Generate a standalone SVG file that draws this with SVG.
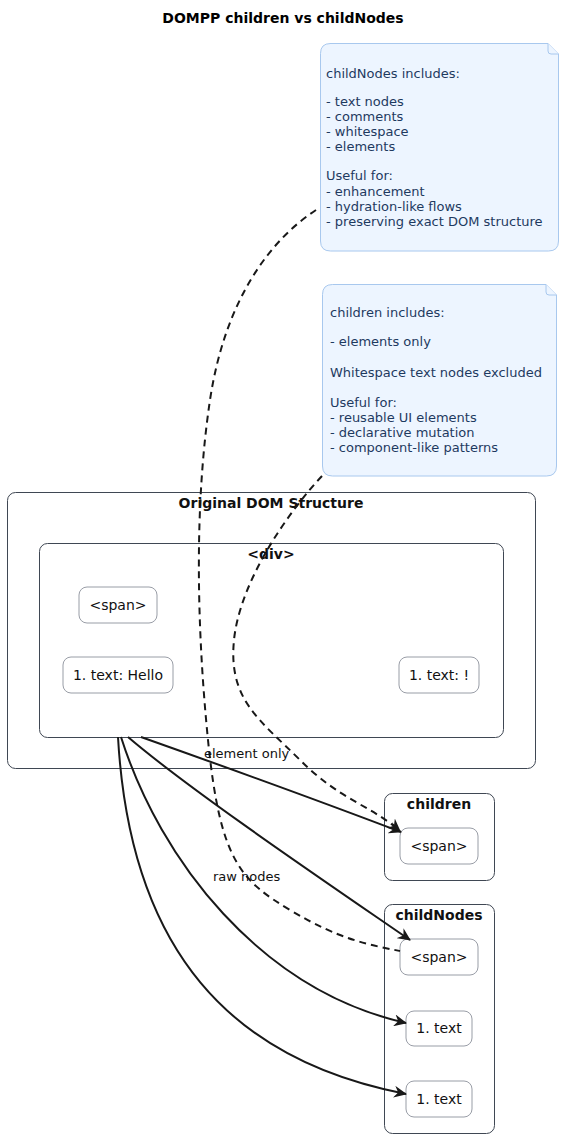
<svg xmlns="http://www.w3.org/2000/svg" width="572" height="1146" viewBox="0 0 572 1146">
<defs>
<style>
text{font-family:"DejaVu Sans","Liberation Sans",sans-serif;}
.title{font-size:14px;font-weight:bold;fill:#000;text-anchor:middle;}
.ctitle{font-size:14px;font-weight:bold;fill:#111;text-anchor:middle;}
.cluster{fill:none;stroke:#3f4753;stroke-width:1;}
.node rect{fill:#fff;stroke:#8d929c;stroke-width:0.9;}
.node text{font-size:14px;fill:#111;text-anchor:middle;}
.note path{fill:#edf5ff;stroke:#a8c8ee;stroke-width:1;}
.note text{font-size:13px;fill:#1e3a5f;}
.edge{fill:none;stroke:#181818;stroke-width:2;}
.dash{fill:none;stroke:#181818;stroke-width:2;stroke-dasharray:7,5;}
.elabel{font-size:13px;fill:#111;}
</style>
<marker id="arr" markerUnits="userSpaceOnUse" markerWidth="14" markerHeight="12" viewBox="0 0 14 12" refX="12" refY="6" orient="auto">
<path d="M0,0 L13,6 L0,12 L4,6 Z" fill="#181818"/>
</marker>
</defs>
<rect width="572" height="1146" fill="#fff"/>
<text class="title" x="283" y="23">DOMPP children vs childNodes</text>

<g id="cluster-original">
<rect class="cluster" x="7.5" y="492.5" width="528" height="276" rx="8"/>
<text class="ctitle" x="271" y="508">Original DOM Structure</text>
</g>
<g id="cluster-div">
<rect class="cluster" x="39.5" y="543.5" width="464" height="194" rx="8"/>
<text class="ctitle" x="271" y="559">&lt;div&gt;</text>
</g>
<g id="cluster-children">
<rect class="cluster" x="384.5" y="793.5" width="110" height="87" rx="8"/>
<text class="ctitle" x="439" y="809">children</text>
</g>
<g id="cluster-childNodes">
<rect class="cluster" x="384.5" y="904.5" width="110" height="229" rx="8"/>
<text class="ctitle" x="439" y="920">childNodes</text>
</g>

<g id="node-span" class="node">
<rect x="79" y="587" width="78" height="36" rx="8"/>
<text x="118" y="610">&lt;span&gt;</text>
</g>
<g id="node-text-hello" class="node">
<rect x="63" y="657" width="110" height="36" rx="8"/>
<text x="118" y="680">1. text: Hello</text>
</g>
<g id="node-text-excl" class="node">
<rect x="399" y="657" width="80" height="36" rx="8"/>
<text x="439" y="680">1. text: !</text>
</g>
<g id="node-children-span" class="node">
<rect x="400" y="828" width="78" height="36" rx="8"/>
<text x="439" y="851">&lt;span&gt;</text>
</g>
<g id="node-childNodes-span" class="node">
<rect x="400" y="939" width="78" height="36" rx="8"/>
<text x="439" y="962">&lt;span&gt;</text>
</g>
<g id="node-childNodes-text1" class="node">
<rect x="406" y="1011" width="66" height="35" rx="8"/>
<text x="439" y="1033">1. text</text>
</g>
<g id="node-childNodes-text2" class="node">
<rect x="406" y="1081" width="66" height="36" rx="8"/>
<text x="439" y="1104">1. text</text>
</g>

<g id="note-childNodes" class="note">
<path d="M330,43.5 H548 L558.5,54 V241 Q558.5,251 548.5,251 H330.5 Q320.5,251 320.5,241 V53.5 Q320.5,43.5 330.5,43.5 Z"/>
<path d="M548,43.5 V51 Q548,54 551,54 H558.5" fill="none"/>
<text x="326" y="78">childNodes includes:</text>
<text x="326" y="106">- text nodes</text>
<text x="326" y="121">- comments</text>
<text x="326" y="136">- whitespace</text>
<text x="326" y="151">- elements</text>
<text x="326" y="180">Useful for:</text>
<text x="326" y="196">- enhancement</text>
<text x="326" y="211">- hydration-like flows</text>
<text x="326" y="226">- preserving exact DOM structure</text>
</g>
<g id="note-children" class="note">
<path d="M332.5,284.5 H546 L556.5,295 V466 Q556.5,476 546.5,476 H332.5 Q322.5,476 322.5,466 V294.5 Q322.5,284.5 332.5,284.5 Z"/>
<path d="M546,284.5 V292 Q546,295 549,295 H556.5" fill="none"/>
<text x="330" y="317">children includes:</text>
<text x="330" y="346">- elements only</text>
<text x="330" y="377">Whitespace text nodes excluded</text>
<text x="330" y="407">Useful for:</text>
<text x="330" y="422">- reusable UI elements</text>
<text x="330" y="437">- declarative mutation</text>
<text x="330" y="452">- component-like patterns</text>
</g>

<g id="connectors">
<path class="edge" d="M141,737 C220,765 330,805 401,832" marker-end="url(#arr)"/>
<path class="edge" d="M128,737 C190,790 320,878 410,940" marker-end="url(#arr)"/>
<path class="edge" d="M121,737 C160,860 260,990 406,1023" marker-end="url(#arr)"/>
<path class="edge" d="M118,737 C130,950 230,1060 406,1094" marker-end="url(#arr)"/>
<path class="dash" d="M322,476 C290,510 240,580 234,640 S260,720 300,760 S370,805 400,831" marker-end="url(#arr)"/>
<path class="dash" d="M316,210 C270,240 225,300 210,400 S196,620 208,740 S240,880 290,910 S370,945 400,951"/>
<text class="elabel" x="204" y="758">element only</text>
<text class="elabel" x="213" y="881">raw nodes</text>
</g>
</svg>
